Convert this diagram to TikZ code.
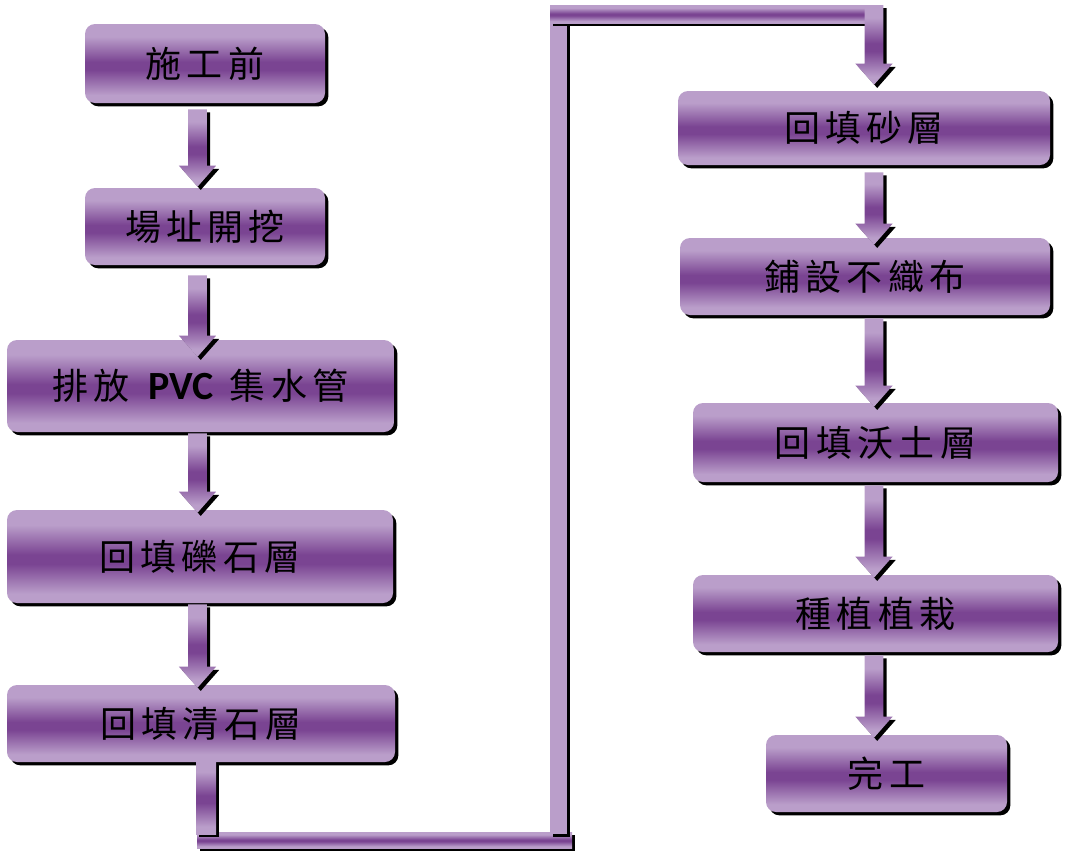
\documentclass[tikz,border=0pt]{standalone}
\usepackage{fontspec}
\newfontfamily\cjk{Noto Sans CJK TC}
\newfontfamily\pvcfont{Carlito}
\usetikzlibrary{calc,shadows}
\definecolor{lp}{RGB}{186,158,202}
\definecolor{dp}{RGB}{122,68,146}
\pgfdeclareverticalshading{purp}{100bp}{color(0bp)=(lp); color(30bp)=(lp); color(46bp)=(dp); color(51bp)=(dp); color(67bp)=(lp); color(100bp)=(lp)}
\newcommand\lsp{\hspace{4pt}}
\newcommand\arrpts[2]{(\x1-7.1pt+#1,\y1+#2) -- (\x1+7.1pt+#1,\y1+#2) -- (\x1+7.1pt+#1,\y2+15.75pt+#2) -- (\x1+13.9pt+#1,\y2+15.75pt+#2) -- (\x1+#1,\y2+#2) -- (\x1-13.9pt+#1,\y2+15.75pt+#2) -- (\x1-7.1pt+#1,\y2+15.75pt+#2) -- cycle}
\newcommand\varr[2]{%
  \fill[black] let \p1=(#1), \p2=(#2) in \arrpts{2.4pt}{-2.4pt};
  \shade[shading=purp] let \p1=(#1), \p2=(#2) in \arrpts{0pt}{0pt};
}
\newcommand\pshad[2]{\fill[black] ([shift={(3.3,3.3)}]#1) rectangle ([shift={(3.3,3.3)}]#2);}
\begin{document}
\begin{tikzpicture}[x=0.75pt,y=-0.75pt,
  box/.style 2 args={rounded corners=7.5pt, shading=purp, minimum width=#1, minimum height=#2,
    inner sep=0pt, general shadow={fill=black, shadow xshift=2.5pt, shadow yshift=-2.5pt},
    font=\cjk\fontsize{27}{32}\selectfont, text=black}]
\useasboundingbox (0,0) rectangle (1067,854);
% boxes, left column
\node[box={180pt}{59.25pt}] (b1) at (205,63.5) {施\lsp 工\lsp 前};
\node[box={180pt}{57.75pt}] (b2) at (205,226.5) {場\lsp 址\lsp 開\lsp 挖};
\node[box={290.25pt}{69pt}] (b3) at (200.5,386) {排\lsp 放\hspace{14pt}{\pvcfont\bfseries\fontsize{30}{30}\selectfont PVC}\hspace{12pt}集\lsp 水\lsp 管};
\node[box={289.5pt}{69.75pt}] (b4) at (200,556.5) {回\lsp 填\lsp 礫\lsp 石\lsp 層};
\node[box={291pt}{57.75pt}] (b5) at (201,723.5) {回\lsp 填\lsp 清\lsp 石\lsp 層};
% boxes, right column
\node[box={279pt}{55.5pt}] (r1) at (864,128) {回\lsp 填\lsp 砂\lsp 層};
\node[box={277.5pt}{57.75pt}] (r2) at (865,276.5) {鋪\lsp 設\lsp 不\lsp 織\lsp 布};
\node[box={273.75pt}{59.25pt}] (r3) at (875.5,442.5) {回\lsp 填\lsp 沃\lsp 土\lsp 層};
\node[box={273.75pt}{57.75pt}] (r4) at (875.5,613.5) {種\lsp 植\lsp 植\lsp 栽};
\node[box={180.75pt}{57.75pt}] (r5) at (886.5,773.5) {完\lsp 工};
% arrow columns
\coordinate (Lx) at (197.5,0);
\coordinate (Rx) at (874,0);
\varr{$(b1.south -| Lx)+(0,6)$}{$(b2.north -| Lx)+(0,-1)$}
\varr{$(b2.south -| Lx)+(0,10)$}{$(b3.north -| Lx)+(0,17)$}
\varr{$(b3.south -| Lx)+(0,1)$}{$(b4.north -| Lx)+(0,3)$}
\varr{$(b4.south -| Lx)+(0,1)$}{$(b5.north -| Lx)+(0,3)$}
\varr{$(r1.south -| Rx)+(0,7)$}{$(r2.north -| Rx)+(0,7)$}
\varr{$(r2.south -| Rx)+(0,3)$}{$(r3.north -| Rx)+(0,4)$}
\varr{$(r3.south -| Rx)+(0,3)$}{$(r4.north -| Rx)+(0,3)$}
\varr{$(r4.south -| Rx)+(0,3)$}{$(r5.north -| Rx)+(0,3)$}
% elbow connector from b5 to r1
\coordinate (e1a) at (196,760);  \coordinate (e1b) at (216,834);
\coordinate (e2a) at (197,832);  \coordinate (e2b) at (572,848);
\coordinate (e3a) at (550,8);    \coordinate (e3b) at (567,834);
\coordinate (e4a) at (550,5);    \coordinate (e4b) at (866,23);
\coordinate (e5) at (874,5);
\pshad{e2a}{e2b}
\shade[shading=purp] (e2a) rectangle (e2b);
\pshad{e1a}{e1b}
\shade[shading=purp] (e1a) rectangle (e1b);
\pshad{e3a}{e3b}
\fill[lp] (e3a) rectangle (e3b);
\pshad{e4a}{e4b}
\shade[shading=purp] (e4a) rectangle (e4b);
\varr{e5}{$(r1.north -| Rx)+(0,-6)$}
\end{tikzpicture}
\end{document}
